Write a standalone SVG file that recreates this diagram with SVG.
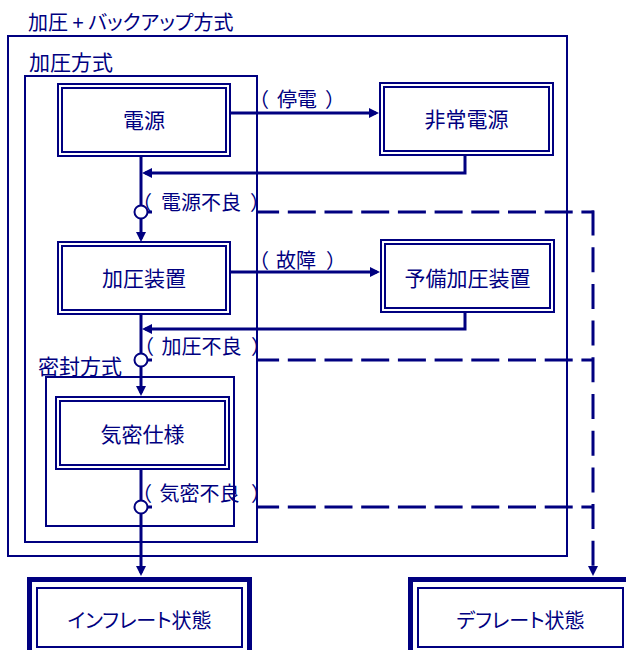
<svg xmlns="http://www.w3.org/2000/svg" width="626" height="650" viewBox="0 0 626 650">
<style>
text{font-family:"Noto Sans CJK JP","Noto Sans",sans-serif;fill:#000080}
.t20{font-size:20px}
.t21{font-size:21px}
.mid{text-anchor:middle}
.palt{font-feature-settings:"palt"}
.frame{fill:none;stroke:#000080;stroke-width:2}
.ob{fill:#fff;stroke:#000080;stroke-width:2}
.ib{fill:none;stroke:#000080;stroke-width:2}
.obt{fill:#fff;stroke:#000080;stroke-width:5}
.ln{fill:none;stroke:#000080;stroke-width:3}
.dh{fill:none;stroke:#000080;stroke-width:3;stroke-dasharray:28 8.7}
.dv{fill:none;stroke:#000080;stroke-width:3;stroke-dasharray:25 11.7}
.jn{fill:#fff;stroke:#000080;stroke-width:2}
.bg{fill:#fff}
</style>
<defs>
<marker id="ah" viewBox="0 0 10 10" refX="7" refY="5" markerWidth="10" markerHeight="10" markerUnits="userSpaceOnUse" orient="auto">
<path d="M0,0 L10,5 L0,10 z" fill="#000080"/>
</marker>
</defs>
<rect width="626" height="650" fill="#fff"/>

<g id="connectors">
<path class="dh" d="M141,212 H594"/>
<path class="dh" d="M141,360 H594"/>
<path class="dh" d="M141,507 H594"/>
<path class="dv" d="M593,210.5 V573" marker-end="url(#ah)"/>
<path class="ln" d="M141,156 V239" marker-end="url(#ah)"/>
<path class="ln" d="M230,113 H376" marker-end="url(#ah)"/>
<path class="ln" d="M465,155 V173 H145" marker-end="url(#ah)"/>
<path class="ln" d="M141,314 V393" marker-end="url(#ah)"/>
<path class="ln" d="M230,272 H377" marker-end="url(#ah)"/>
<path class="ln" d="M465,312 V329 H145" marker-end="url(#ah)"/>
<path class="ln" d="M141,469 V573" marker-end="url(#ah)"/>
<rect class="bg" x="152" y="194" width="105" height="21"/>
<rect class="bg" x="152" y="341" width="105" height="22"/>
<rect class="bg" x="152" y="488" width="105" height="22"/>
<circle class="jn" cx="141" cy="212" r="6.5"/>
<circle class="jn" cx="141" cy="360" r="6.5"/>
<circle class="jn" cx="141" cy="507" r="6.5"/>
<text class="t20" x="249" y="106.5">（<tspan dx="8">停電</tspan><tspan dx="8">）</tspan></text>
<text class="t20" x="132" y="209.5">（<tspan dx="9">電源不良</tspan><tspan dx="9">）</tspan></text>
<text class="t20" x="249" y="267.5">（<tspan dx="7">故障</tspan><tspan dx="10">）</tspan></text>
<text class="t20" x="134" y="353.5">（<tspan dx="7.5">加圧不良</tspan><tspan dx="9.5">）</tspan></text>
<text class="t20" x="132" y="500.5">（<tspan dx="7.5">気密不良</tspan><tspan dx="11.5">）</tspan></text>
</g>

<g id="frame-backup">
<rect class="frame" x="8" y="36" width="559" height="520"/>
<text class="t20 palt" x="28" y="29.5">加圧 + バックアップ方式</text>
</g>
<g id="frame-pressure">
<rect class="frame" x="25" y="76" width="232" height="466"/>
<text class="t21" x="29" y="70">加圧方式</text>
</g>
<g id="frame-seal">
<rect class="frame" x="46" y="377" width="188" height="149"/>
<text class="t21" x="38" y="373.5">密封方式</text>
</g>

<g id="n-power">
<rect class="ob" x="58" y="84" width="172" height="72"/>
<rect class="ib" x="62" y="88" width="164" height="64"/>
<text class="t21 mid" x="144" y="128">電源</text>
</g>
<g id="n-emergency">
<rect class="ob" x="380" y="83" width="173" height="72"/>
<rect class="ib" x="384" y="87" width="165" height="64"/>
<text class="t21 mid" x="466.5" y="127">非常電源</text>
</g>
<g id="n-pressurizer">
<rect class="ob" x="58" y="242" width="172" height="72"/>
<rect class="ib" x="62" y="246" width="164" height="64"/>
<text class="t21 mid" x="144" y="285.5">加圧装置</text>
</g>
<g id="n-backup">
<rect class="ob" x="381" y="240" width="173" height="72"/>
<rect class="ib" x="385" y="244" width="165" height="64"/>
<text class="t21 mid" x="467.5" y="285.5">予備加圧装置</text>
</g>
<g id="n-airtight">
<rect class="ob" x="56" y="397" width="173" height="72"/>
<rect class="ib" x="60" y="401" width="165" height="64"/>
<text class="t21 mid" x="142.5" y="442">気密仕様</text>
</g>
<g id="n-inflate">
<rect class="obt" x="29.5" y="579.5" width="220" height="100"/>
<rect class="ib" x="37" y="588" width="205" height="59"/>
<text class="t20 mid palt" x="139.5" y="628">インフレート状態</text>
</g>
<g id="n-deflate">
<rect class="obt" x="410.5" y="579.5" width="220" height="100"/>
<rect class="ib" x="418" y="588" width="205" height="59"/>
<text class="t20 mid palt" x="520.5" y="628">デフレート状態</text>
</g>
</svg>
